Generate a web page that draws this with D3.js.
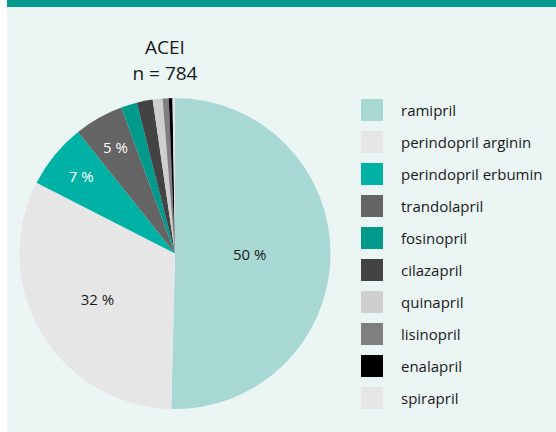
<!DOCTYPE html>
<html><head><meta charset="utf-8">
<script src="https://cdn.jsdelivr.net/npm/d3@7"></script>
<style>
html,body{margin:0;padding:0;background:#fff;}
svg{display:block;font-family:"Open Sans",sans-serif;}
</style></head>
<body>
<svg id="c" width="556" height="432"></svg>
<script>
const categories = ["ramipril","perindopril arginin","perindopril erbumin","trandolapril","fosinopril","cilazapril","quinapril","lisinopril","enalapril","spirapril"];
const counts = [395, 252, 53, 40, 13, 13, 8, 5, 3, 2];
const colors = ["#a7d8d3","#e6e6e6","#00b1a6","#646464","#009a8c","#434343","#cfcfcf","#7f7f7f","#000000","#e6e6e6"];
const labelColors = ["#1a1a1a","#1a1a1a","#ffffff","#ffffff"];
const titleLines = ["ACEI","n = 784"];

const svg = d3.select("#c");
svg.append("rect").attr("x",7).attr("y",0).attr("width",549).attr("height",432).attr("fill","#ebf5f4");
svg.append("rect").attr("x",7).attr("y",0).attr("width",549).attr("height",7).attr("fill","#009b8e");

const total = d3.sum(counts);
const data = categories.map((c,i)=>({name:c,value:counts[i],color:colors[i],i}));
const cx = 175, cy = 253.5, r = 155.5;
const pie = d3.pie().value(d=>d.value).sort(null);
const arcs = pie(data);
const arc = d3.arc().innerRadius(0).outerRadius(r);
const g = svg.append("g").attr("transform",`translate(${cx},${cy})`);
g.selectAll("path").data(arcs).join("path").attr("d",arc).attr("fill",d=>d.data.color);

arcs.forEach((a,i)=>{
  const share = a.data.value/total;
  if (share < 0.04) return;
  const k = share>0.4 ? 0.48 : share>0.2 ? 0.58 : 0.78;
  const la = d3.arc().innerRadius(r*k).outerRadius(r*k);
  const [x,y] = la.centroid(a);
  g.append("text").attr("x",x).attr("y",y).attr("dy","0.35em").attr("text-anchor","middle")
   .attr("font-size",15).attr("fill",labelColors[i])
   .text(Math.round(share*100)+" %");
});

svg.selectAll("text.t").data(titleLines).join("text").attr("class","t")
  .attr("x",165).attr("y",(d,i)=>54+i*26).attr("text-anchor","middle")
  .attr("font-size",19).attr("fill","#1a1a1a").text(d=>d);

const lg = svg.append("g");
const row = lg.selectAll("g").data(data).join("g").attr("transform",(d,i)=>`translate(361,${99+i*32})`);
row.append("rect").attr("width",22).attr("height",22).attr("fill",d=>d.color);
row.append("text").attr("x",40).attr("y",17).attr("font-size",15).attr("fill","#1a1a1a").text(d=>d.name);
</script>
</body></html>
